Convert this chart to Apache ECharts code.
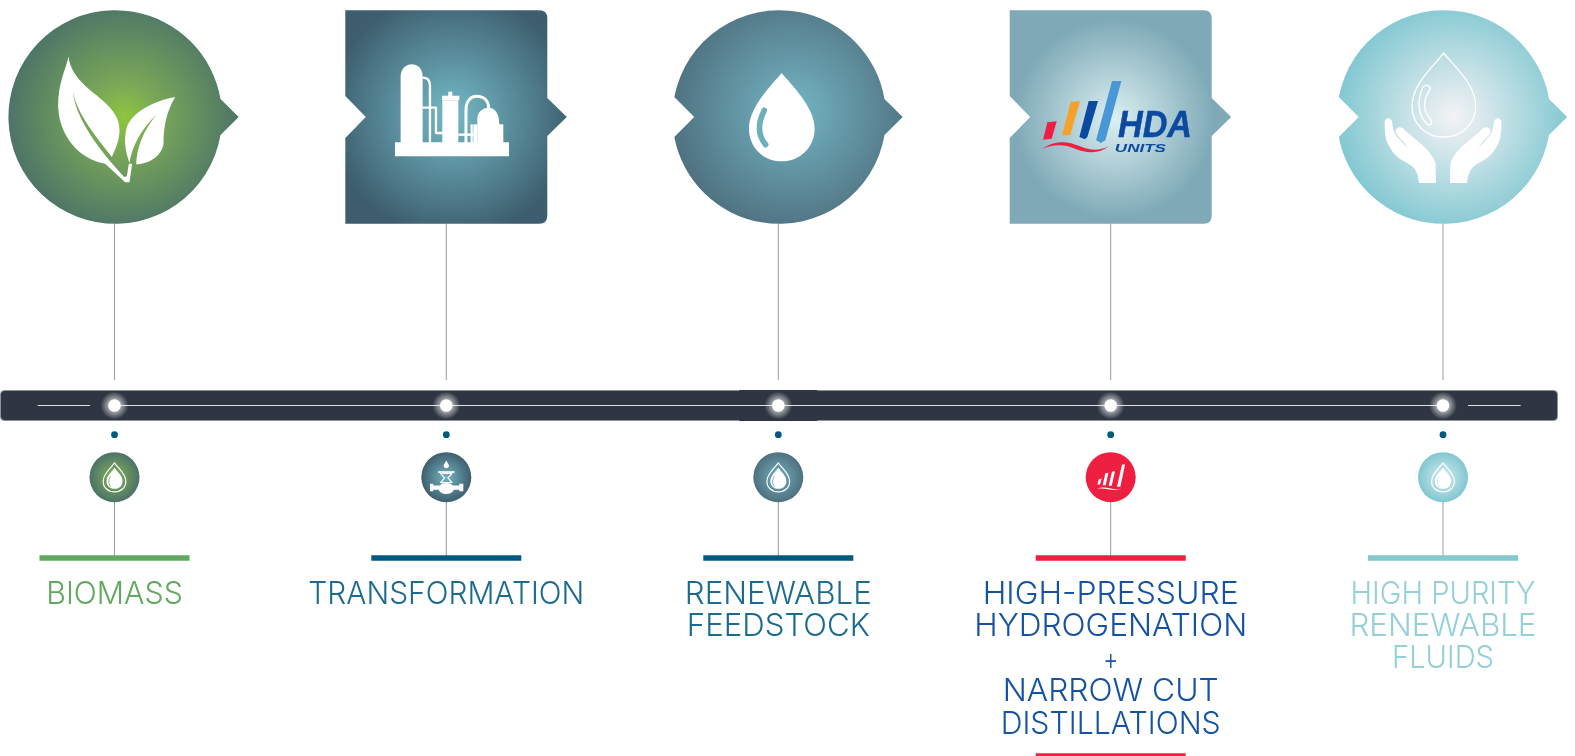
<!DOCTYPE html>
<html><head><meta charset="utf-8">
<style>html,body{margin:0;padding:0;background:#fff}#c{width:1575px;height:756px}</style>
<script src="https://cdn.jsdelivr.net/npm/echarts@6/dist/echarts.min.js"></script>
</head><body><div id="c"></div>
<script>
// ---- content ----
const stages = ['Biomass','Transformation','Renewable feedstock','High-pressure hydrogenation','High purity renewable fluids'];
const stageX = [114.5, 446.3, 778.3, 1110.7, 1443];
const labelLines = [
  ['BIOMASS'],
  ['TRANSFORMATION'],
  ['RENEWABLE','FEEDSTOCK'],
  ['HIGH-PRESSURE','HYDROGENATION','+','NARROW CUT','DISTILLATIONS'],
  ['HIGH PURITY','RENEWABLE','FLUIDS']
];
const backboneX = [0, 1558];

// ---- look ----
const labelWidths = {'BIOMASS':136.6,'TRANSFORMATION':276,'RENEWABLE':187,'FEEDSTOCK':183,'HIGH-PRESSURE':256,'HYDROGENATION':273,'+':15,'NARROW CUT':216,'DISTILLATIONS':220,'HIGH PURITY':185,'FLUIDS':102};
const Y = {badge:117, barTop:390.5, barBot:420.5, axis:405.5, stemTop:[223.4,380], dot:434.7, mini:477.2, stem2:[501,556], rule:558, text:[595,627,660.5,692,724.2]};
const looks = [
  {fg:'#62a860', rule:'#62a860', big:[[0,'#8fc63f'],[.3,'#78a758'],[1,'#4c7268']], gc:[9,0], gr:118, mini:['#86b556','#4c7268'], shape:'circle0', dx:.7},
  {fg:'#1c6a8f', rule:'#005a80', big:[[0,'#74bac6'],[1,'#3e5e6f']], gc:[6,-3], gr:122, mini:['#74b4c0','#3e5e6f'], shape:'square', dx:0},
  {fg:'#1c6a8f', rule:'#005a80', big:[[0,'#74b6c3'],[1,'#4f7080']], gc:[14,-6], gr:124, mini:['#72b0bd','#4f7080'], shape:'circle', dx:.9},
  {fg:'#1552a4', rule:'#ef1f41', big:[[0,'#dbf0f2'],[1,'#7fa9b7']], gc:[4,2], gr:100, mini:['#ef1f41','#ef1f41'], shape:'square', dx:0},
  {fg:'#93d0d8', rule:'#84c8d0', big:[[0,'#f5f3f5'],[1,'#80c7d1']], gc:[10,0], gr:118, mini:['#d9ecef','#80c7d1'], shape:'circle', dx:.7}
];
const SHAPES = {
  circle0:'M105.3 -18 L123.5 0 L105.3 18 A106.8 106.8 0 1 1 105.3 -18 Z',
  circle:'M105.3 -18 L123.5 0 L105.3 18 A106.8 106.8 0 0 1 -104.9 20 L-85 0 L-104.9 -20 A106.8 106.8 0 0 1 105.3 -18 Z',
  square:'M-101 -106.7 H93 Q101 -106.7 101 -98.7 V-19 L120.5 0 L101 19 V98.7 Q101 106.7 93 106.7 H-101 V21 L-80.5 0 L-101 -21 Z'
};
// glyph outlines, drawn at 3x and anchored on the badge centre
const W = '#fff';
const GLYPHS = [
  {o:[343,350], parts:[
    {d:'M205 168 C208 200 225 232 270 270 C320 310 358 340 358 390 C358 420 345 450 335 470 C290 410 235 350 218 275 C228 350 280 430 372 530 L380 528 L386 490 L396 490 L388 546 L375 546 L315 490 C240 478 178 410 174 320 C172 250 200 200 205 168 Z', fill:W},
    {d:'M525 290 C470 300 400 330 380 380 C370 420 375 450 388 488 C395 440 420 390 470 342 C430 390 410 440 408 492 C450 490 485 465 490 430 C490 390 495 340 525 290 Z', fill:W}
  ]},
  {o:[319,350], parts:[
    {d:'M165 426 H507 V468 H165 Z', fill:W},
    {d:'M182 430 V228 C182 205 200 192 215 192 C232 192 248 205 248 228 V430 Z', fill:W},
    {d:'M248 232 C262 232 270 240 270 255 V430', stroke:W, lw:7},
    {d:'M248 322 H288 V398 H310', stroke:W, lw:7},
    {d:'M307 430 V300 H355 V430 Z', fill:W},
    {d:'M306 286 H325 V274 H337 V286 H358 V300 H306 Z', fill:W},
    {d:'M378 430 V330 C378 302 392 288 410 288 C432 288 446 302 446 325', stroke:W, lw:9},
    {d:'M355 403 H405', stroke:W, lw:7},
    {d:'M395 430 V372', stroke:W, lw:7},
    {d:'M412 430 V355 C412 335 430 322 445 322 C462 322 478 335 478 372 H490 V430 Z', fill:W},
    {d:'M400 372 H412 V430 H400 Z', fill:W}
  ]},
  {o:[340,350], parts:[
    {d:'M350 218 C320 255 252 320 252 385 C252 440 295 483 350 483 C405 483 449 440 449 385 C449 320 380 255 350 218 Z', fill:W},
    {d:'M298 330 C280 365 275 400 302 433', stroke:'#6fafbc', lw:17, cap:'round'}
  ]},
  {o:[332,350], parts:[
    {d:'M142 366 L170 363 L155 415 L129 418 Z', fill:'#ef1f41'},
    {d:'M212 304 L240 303 L210 405 L186 405 Z', fill:'#f5a12a'},
    {d:'M266 302 L294 302 L262 410 L254 417 L238 410 Z', fill:'#0b4aa0'},
    {d:'M336 242 L364 242 L316 420 L302 428 L288 420 Z', fill:'#4a97d5'},
    {d:'M125 447 C160 420 200 420 240 438 C270 452 300 452 327 438 C300 460 260 460 225 445 C190 430 155 432 125 447 Z', fill:'#ef1f41'}
  ], texts:[
    {t:'HDA', x:465, y:379, size:37, w:74, fill:'#0b4aa0', font:'italic bold', lw:.5},
    {t:'UNITS', x:421, y:447, size:10, w:51, fill:'#0b4aa0', font:'italic bold', lw:0}
  ]},
  {o:[355,350], parts:[
    {d:'M357 158 C330 195 262 250 262 318 C262 372 305 410 357 410 C410 410 453 372 453 318 C453 250 385 195 357 158 Z', stroke:W, lw:4},
    {d:'M294 262 C276 300 280 345 308 372 C316 378 326 366 318 358 C296 335 292 300 316 268 C320 255 300 250 294 262 Z', stroke:W, lw:4},
    {d:'M180 365 C182 350 200 350 203 368 C205 385 208 398 216 408 L248 442 C240 425 220 410 213 398 C208 385 225 372 240 388 C262 412 320 445 333 490 L334 548 H283 C280 530 280 515 262 498 C240 480 215 478 195 440 C180 420 180 390 180 365 Z', fill:W},
    {d:'M530 365 C528 350 510 350 507 368 C505 385 502 398 494 408 L462 442 C470 425 490 410 497 398 C502 385 485 372 470 388 C448 412 390 445 377 490 L376 548 H427 C430 530 430 515 448 498 C470 480 495 478 515 440 C530 420 530 390 530 365 Z', fill:W}
  ]}
];
const dropMini = sw => ({o:[344,320], parts:[
  {d:'M344 277 C330 297 310 310 310 332 C310 352 325 364 344 364 C363 364 378 352 378 332 C378 310 358 297 344 277 Z', stroke:W, lw:3.5},
  {d:'M344 292 C335 305 320 316 320 332 C320 347 332 355 344 355 C357 355 368 347 368 332 C368 316 353 305 344 292 Z', fill:W},
  {d:'M332 318 C325 330 325 342 334 350', stroke:sw, lw:2.5}
]});
const MINI = [
  dropMini('#7bab5c'),
  {o:[1339,320], parts:[
    {d:'M1339 270 C1335 278 1331 282 1331 286 C1331 291 1335 293 1339 293 C1343 293 1347 291 1347 286 C1347 282 1343 278 1339 270 Z', fill:W},
    {d:'M1314 302 H1364 V307 H1314 Z', fill:W},
    {d:'M1322 309 H1356 L1344 322 L1356 336 H1322 L1334 322 Z', stroke:W, lw:3.5},
    {d:'M1290 340 H1300 V345 H1320 C1325 335 1352 335 1358 345 H1378 V340 H1390 V362 H1378 V358 H1362 C1355 375 1322 375 1316 358 H1300 V362 H1290 Z', fill:W}
  ]},
  dropMini('#6fa9b6'),
  {o:[212,170], parts:[
    {d:'M176 176 L185 174 L180 192 L172 192 Z', fill:W},
    {d:'M196 158 L205 157 L197 194 L188 194 Z', fill:W},
    {d:'M216 153 L225 152 L215 196 L206 196 Z', fill:W},
    {d:'M246 132 L255 132 L241 199 L231 199 Z', fill:W},
    {d:'M170 205 C190 196 210 204 225 206 C232 207 238 207 244 204 C236 210 220 209 208 207 C195 204 183 203 170 205 Z', fill:W}
  ]},
  dropMini('#b5dde2')
];
const R = echarts.graphic.RadialGradient;
const TEXT_FONT = '300 31px Inter, "Liberation Sans", sans-serif';
const measureCtx = document.createElement('canvas').getContext('2d');
function fitScale(text, font, target) { measureCtx.font = font; return target / measureCtx.measureText(text).width; }

function glyphEls(g, X, Yc) {
  const els = [];
  const tx = X - g.o[0]/3, ty = Yc - g.o[1]/3;
  g.parts.forEach(p => els.push({type:'path', x:tx, y:ty, scaleX:1/3, scaleY:1/3,
    shape:{pathData:p.d},
    style:{fill:p.fill||null, stroke:p.stroke||null, lineWidth:p.lw||0, lineCap:p.cap||'butt', lineJoin:'round'}}));
  (g.texts||[]).forEach(t => {
    const font = t.font+' '+t.size+'px "Liberation Sans", sans-serif';
    els.push({type:'text', x:tx + t.x/3, y:ty + t.y/3, scaleX:fitScale(t.t, font, t.w),
      style:{text:t.t, x:0, y:0, align:'center', verticalAlign:'middle', fill:t.fill, font:font,
        stroke:t.lw?t.fill:null, lineWidth:t.lw}});
  });
  return els;
}
function vline(api, x, y0, y1, color, w) {
  const a = api.coord([x,y0]), b = api.coord([x,y1]);
  return {type:'line', shape:{x1:a[0],y1:a[1],x2:b[0],y2:b[1]}, style:{stroke:color, lineWidth:w}};
}
function renderBackbone(params, api) {
  const a = api.coord([backboneX[0], Y.barTop]), b = api.coord([backboneX[1], Y.barBot]);
  const ax = api.coord([stageX[0], Y.axis]), bx = api.coord([stageX[4], Y.axis]), mid = api.coord([stageX[2], Y.axis]);
  const wire = (x0,x1) => ({type:'line', shape:{x1:x0,y1:ax[1],x2:x1,y2:ax[1]}, style:{stroke:'#dfe1e4', lineWidth:1}});
  return {type:'group', children:[
    {type:'rect', shape:{x:a[0]+.5,y:a[1],width:b[0]-a[0]-1,height:b[1]-a[1],r:4}, style:{fill:'#2f3542', stroke:'#8f929a', lineWidth:1}},
    {type:'rect', shape:{x:mid[0]-39,y:a[1]-.5,width:78,height:b[1]-a[1]+1}, style:{fill:'#2f3542'}},
    wire(37.7,90), wire(ax[0],bx[0]), wire(1468,1520.7)
  ]};
}
function renderStage(params, api) {
  const i = params.dataIndex, L = looks[i], x = api.value(0);
  const c = api.coord([x, Y.badge]), X = c[0];
  const m = api.coord([x, Y.mini]), d = api.coord([x, Y.dot]), a = api.coord([x, Y.axis]), r = api.coord([x, Y.rule]);
  const kids = [
    vline(api, x, Y.stemTop[0], Y.stemTop[1], '#9c9c9c', 1),
    vline(api, x, Y.stem2[0], Y.stem2[1], '#9c9c9c', 1),
    {type:'path', x:X+L.dx, y:c[1], shape:{pathData:SHAPES[L.shape]},
      style:{fill:new R(L.gc[0], L.gc[1], L.gr, L.big.map(s=>({offset:s[0],color:s[1]})), true)}},
    {type:'rect', shape:{x:X-75,y:r[1]-2.7,width:150,height:5.4}, style:{fill:L.rule}},
    {type:'circle', x:X, y:a[1], shape:{cx:0,cy:0,r:14},
      style:{fill:new R(0,0,14,[{offset:0,color:'rgba(255,255,255,0.9)'},{offset:.45,color:'rgba(255,255,255,0.55)'},{offset:1,color:'rgba(255,255,255,0)'}],true)}},
    {type:'circle', shape:{cx:X,cy:a[1],r:6.3}, style:{fill:'#fff'}},
    {type:'circle', shape:{cx:X,cy:d[1],r:3.4}, style:{fill:'#005a80'}},
    {type:'circle', x:X, y:m[1], shape:{cx:0,cy:0,r:25},
      style:{fill:new R(0,0,25,[{offset:0,color:L.mini[0]},{offset:1,color:L.mini[1]}],true)}}
  ];
  kids.push(...glyphEls(GLYPHS[i], X, c[1]));
  kids.push(...glyphEls(MINI[i], X, m[1]));
  if (i === 3) {
    const rr = api.coord([x, 756]);
    kids.push({type:'rect', shape:{x:X-75,y:rr[1]-2.7,width:150,height:2.7}, style:{fill:L.rule}});
  }
  labelLines[i].forEach((t, k) => {
    const ty = labelLines[i].length === 5 ? Y.text[k] : 595 + 32*k;
    const p = api.coord([x, ty]);
    kids.push({type:'text', x:X, y:p[1], scaleX:fitScale(t, TEXT_FONT, labelWidths[t]),
      style:{text:t, x:0, y:0, align:'center', verticalAlign:'middle', fill:L.fg, font:TEXT_FONT}});
  });
  return {type:'group', children:kids};
}
const chart = echarts.init(document.getElementById('c'));
chart.setOption({
  animation:false, backgroundColor:'#fff',
  grid:{left:0,right:0,top:0,bottom:0},
  xAxis:{type:'value',min:0,max:1575,show:false},
  yAxis:{type:'value',min:0,max:756,inverse:true,show:false},
  series:[
    {type:'custom', name:'backbone', data:[[0]], renderItem:renderBackbone, clip:false, silent:true, z:1},
    {type:'custom', name:'stages', data:stageX.map((x,i)=>({name:stages[i], value:[x]})), encode:{x:0}, renderItem:renderStage, clip:false, silent:true, z:2}
  ]
});
</script></body></html>
